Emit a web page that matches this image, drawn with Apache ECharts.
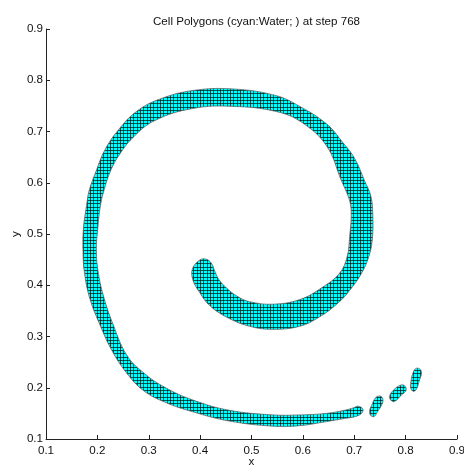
<!DOCTYPE html>
<html>
<head>
<meta charset="utf-8">
<script src="https://cdn.jsdelivr.net/npm/echarts@6/dist/echarts.min.js"></script>
<style>
html,body{margin:0;padding:0;background:#fff;}
#chart{width:464px;height:468px;}
</style>
</head>
<body>
<div id="chart"></div>
<script>
// ---- Data ----
var titleText = 'Cell Polygons (cyan:Water; ) at step 768';
var xTicks = [0.1, 0.2, 0.3, 0.4, 0.5, 0.6, 0.7, 0.8, 0.9];
var yTicks = [0.1, 0.2, 0.3, 0.4, 0.5, 0.6, 0.7, 0.8, 0.9];

// outer edge of the spiral water band, from inner end-cap to the outer tail
var bandOuter = [
  [0.399,0.449],[0.385,0.432],[0.386,0.410],[0.399,0.386],[0.418,0.361],[0.451,0.338],
  [0.496,0.320],[0.542,0.314],[0.594,0.320],[0.632,0.338],[0.668,0.365],[0.691,0.390],
  [0.714,0.423],[0.728,0.455],[0.735,0.488],[0.736,0.540],[0.732,0.575],[0.720,0.604],
  [0.701,0.647],[0.675,0.682],[0.646,0.715],[0.594,0.749],[0.548,0.770],[0.464,0.783],
  [0.386,0.780],[0.321,0.763],[0.276,0.739],[0.240,0.702],[0.214,0.663],[0.198,0.624],
  [0.184,0.585],[0.179,0.556],[0.173,0.513],[0.172,0.468],[0.175,0.423],[0.185,0.375],
  [0.204,0.325],[0.228,0.273],[0.256,0.230],[0.289,0.195],[0.331,0.172],[0.386,0.153],
  [0.457,0.135],[0.542,0.125],[0.594,0.126],[0.646,0.134],[0.681,0.140],[0.703,0.144],
  [0.714,0.150],[0.717,0.158],[0.708,0.164],[0.699,0.161]
];
// inner edge of the band, from the outer tail back to the inner end-cap
var bandInner = [
  [0.681,0.156],[0.646,0.150],[0.594,0.147],[0.542,0.147],[0.457,0.156],[0.386,0.176],
  [0.331,0.201],[0.289,0.230],[0.257,0.264],[0.230,0.325],[0.213,0.375],[0.202,0.423],
  [0.198,0.468],[0.201,0.513],[0.206,0.556],[0.214,0.589],[0.226,0.624],[0.243,0.655],
  [0.269,0.688],[0.311,0.721],[0.386,0.745],[0.464,0.749],[0.548,0.739],[0.599,0.717],
  [0.646,0.672],[0.675,0.604],[0.691,0.565],[0.694,0.536],[0.691,0.495],[0.686,0.455],
  [0.671,0.423],[0.638,0.396],[0.594,0.372],[0.542,0.363],[0.496,0.368],[0.473,0.378],
  [0.452,0.394],[0.436,0.412],[0.428,0.429],[0.422,0.443],[0.411,0.451]
];
// detached water droplets beyond the tail
var blob1 = [[0.730,0.156],[0.732,0.146],[0.739,0.144],[0.745,0.153],[0.755,0.170],
             [0.755,0.180],[0.749,0.184],[0.741,0.180],[0.734,0.166]];
var blob2 = [[0.769,0.184],[0.771,0.176],[0.778,0.173],[0.792,0.186],[0.801,0.195],
             [0.798,0.204],[0.790,0.205],[0.776,0.195]];
var blob3 = [[0.810,0.199],[0.815,0.193],[0.821,0.197],[0.827,0.215],[0.831,0.229],
             [0.827,0.237],[0.819,0.237],[0.813,0.225],[0.810,0.209]];

var cellSize = 0.0065; // mesh cell size in data units

// ---- Build ----
var polygons = [bandOuter.concat(bandInner), blob1, blob2, blob3];

var chart = echarts.init(document.getElementById('chart'), null, {renderer: 'canvas'});

var patternCache = null;
function makePattern(px) {
  if (patternCache) return patternCache;
  // three cells per tile so the mean cell width can be fractional
  var n = Math.round(px * 3);
  var c = document.createElement('canvas');
  c.width = n; c.height = n;
  var g = c.getContext('2d');
  g.fillStyle = '#00ffff';
  g.fillRect(0, 0, n, n);
  g.fillStyle = 'rgba(0,25,25,0.72)';
  for (var k = 0; k < 3; k++) {
    var o = Math.round(k * px);
    g.fillRect(0, o, n, 1);
    g.fillRect(o, 0, 1, n);
  }
  patternCache = c;
  return c;
}

var FONT = 'Liberation Sans, Arial, Helvetica, sans-serif';
var FS = 11.6;

var option = {
  animation: false,
  backgroundColor: '#ffffff',
  title: {
    text: titleText,
    left: 148, top: 11,
    textStyle: {fontSize: FS, fontWeight: 'normal', color: '#111', fontFamily: FONT}
  },
  grid: {left: 46, right: 7, top: 29, bottom: 29, containLabel: false, outerBoundsMode: 'none'},
  xAxis: {
    type: 'value', min: xTicks[0], max: xTicks[xTicks.length-1], interval: 0.1,
    name: 'x', nameLocation: 'middle', nameGap: 17, nameMoveOverlap: false,
    nameTextStyle: {fontSize: FS, color: '#111', fontFamily: FONT},
    axisLine: {show: true, onZero: false, lineStyle: {color: '#222', width: 1}},
    axisTick: {show: true, inside: true, length: 4, lineStyle: {color: '#222'}},
    axisLabel: {margin: 6, fontSize: FS, color: '#111', fontFamily: FONT,
      formatter: function (v) { return v.toFixed(1); }},
    splitLine: {show: false}
  },
  yAxis: {
    type: 'value', min: yTicks[0], max: yTicks[yTicks.length-1], interval: 0.1,
    name: 'y', nameLocation: 'middle', nameGap: 24, nameMoveOverlap: false,
    nameTextStyle: {fontSize: FS, color: '#111', fontFamily: FONT},
    axisLine: {show: true, onZero: false, lineStyle: {color: '#222', width: 1}},
    axisTick: {show: true, inside: true, length: 4, lineStyle: {color: '#222'}},
    axisLabel: {margin: 3, fontSize: FS, color: '#111', fontFamily: FONT,
      formatter: function (v) { return v.toFixed(1); }},
    splitLine: {show: false}
  },
  series: [{
    type: 'custom',
    coordinateSystem: 'cartesian2d',
    data: polygons.map(function (p, i) { return [p[0][0], p[0][1], i]; }),
    renderItem: function (params, api) {
      var poly = polygons[api.value(2)];
      var pts = poly.map(function (pt) { return api.coord(pt); });
      var p0 = api.coord([0, 0]), p1 = api.coord([cellSize, 0]);
      var cellPx = Math.abs(p1[0] - p0[0]);
      return {
        type: 'polygon',
        shape: {points: pts, smooth: 0.4},
        style: {
          fill: {image: makePattern(cellPx), repeat: 'repeat'},
          stroke: '#5a6a6a',
          lineWidth: 0.8
        }
      };
    }
  }]
};
chart.setOption(option);
</script>
</body>
</html>
